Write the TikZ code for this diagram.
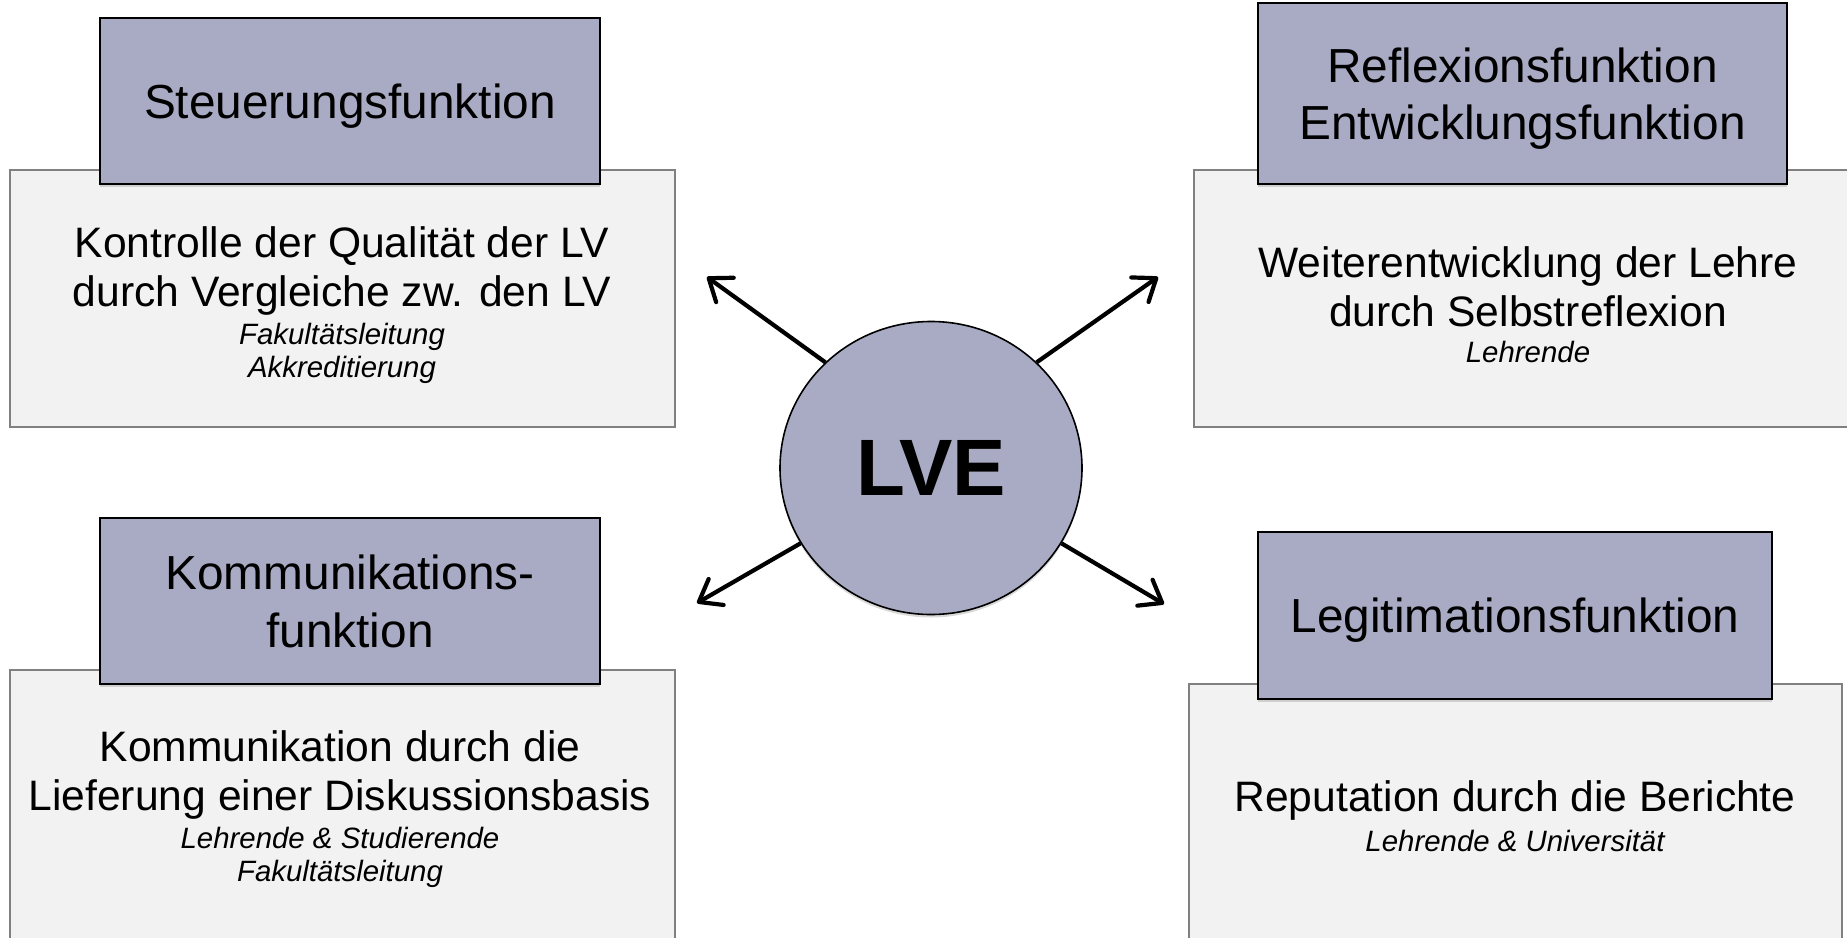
\documentclass[tikz,border=0pt]{standalone}
\usepackage{fontspec}
\setmainfont{Liberation Sans}
\usetikzlibrary{arrows.meta,shadows,shapes.geometric}

\definecolor{headfill}{RGB}{169,171,196}
\definecolor{areafill}{RGB}{242,242,242}
\definecolor{arealine}{RGB}{128,128,128}

\newcommand{\headfont}{\fontsize{23.9}{28.7}\selectfont}
\newcommand{\bodyfont}{\fontsize{21.3}{24.5}\selectfont}
\newcommand{\rolefont}{\fontsize{14.7}{16.5}\selectfont\itshape}
\newcommand{\lvefont}{\fontsize{40}{48}\selectfont\bfseries}

\tikzset{
  areabox/.style={draw=arealine, line width=0.6pt, fill=areafill, inner sep=0pt},
  headbox/.style={draw=black, line width=1pt, fill=headfill, align=center, font=\headfont, inner sep=0pt,
    text depth=0pt, drop shadow={shadow xshift=0pt, shadow yshift=-1.5pt, opacity=0.3}},
  lvecircle/.style={ellipse, draw=black, line width=0.8pt, fill=headfill, inner sep=0pt, font=\lvefont,
    minimum width=151pt, minimum height=146.5pt,
    drop shadow={shadow xshift=0pt, shadow yshift=-1.5pt, opacity=0.3}},
  bodytext/.style={align=center, font=\bodyfont, inner sep=0pt},
  roletext/.style={align=center, font=\rolefont, inner sep=0pt},
  outarrow/.style={line width=2.1pt, -{Straight Barb[length=10pt, width=15pt, round]}},
}

\begin{document}
\begin{tikzpicture}[x=0.5pt, y=-0.5pt]
  \useasboundingbox (0,0) rectangle (1847,937);

  % Steuerungsfunktion
  \node[areabox, minimum width=332.5pt, minimum height=128.5pt] (steuarea) at (342.5,298.5) {};
  \node[headbox, minimum width=250pt, minimum height=83pt] (steuhead) at (350,101) {Steuerungsfunktion};
  \node[bodytext] (steubody) at (342,271) {Kontrolle der Qualität der LV\\durch Vergleiche zw. den LV};
  \node[roletext] (steurole) at (342,353) {Fakultätsleitung\\Akkreditierung};

  % Reflexions- / Entwicklungsfunktion
  \node[areabox, minimum width=338pt, minimum height=128.5pt] (reflarea) at (1532,298.5) {};
  \node[headbox, minimum width=264.5pt, minimum height=90.5pt] (reflhead) at (1522.5,93.5) {Reflexionsfunktion\\Entwicklungsfunktion};
  \node[bodytext] (reflbody) at (1528,286.5) {Weiterentwicklung der Lehre\\durch Selbstreflexion};
  \node[roletext] (reflrole) at (1528,352) {Lehrende};

  % Kommunikationsfunktion
  \node[areabox, minimum width=332.5pt, minimum height=140pt] (kommarea) at (342.5,810) {};
  \node[headbox, minimum width=250pt, minimum height=83pt] (kommhead) at (350,601) {Kommunikations-\\funktion};
  \node[bodytext] (kommbody) at (340,775) {Kommunikation durch die\\Lieferung einer Diskussionsbasis};
  \node[roletext] (kommrole) at (340,857.5) {Lehrende \& Studierende\\Fakultätsleitung};

  % Legitimationsfunktion
  \node[areabox, minimum width=326.5pt, minimum height=133pt] (legiarea) at (1515.5,817) {};
  \node[headbox, minimum width=257pt, minimum height=83.5pt] (legihead) at (1515,615.5) {Legitimationsfunktion};
  \node[bodytext] (legibody) at (1515,800) {Reputation durch die Berichte};
  \node[roletext] (legirole) at (1515,841) {Lehrende \& Universität};

  % Mitte
  \node[lvecircle] (lve) at (931,468) {LVE};

  \coordinate (steutip) at (707,277);
  \coordinate (refltip) at (1158,277);
  \coordinate (kommtip) at (697,603);
  \coordinate (legitip) at (1164,604);

  \draw[outarrow] (lve.135) -- (steutip);
  \draw[outarrow] (lve.45) -- (refltip);
  \draw[outarrow] (lve.210) -- (kommtip);
  \draw[outarrow] (lve.330) -- (legitip);
\end{tikzpicture}
\end{document}
